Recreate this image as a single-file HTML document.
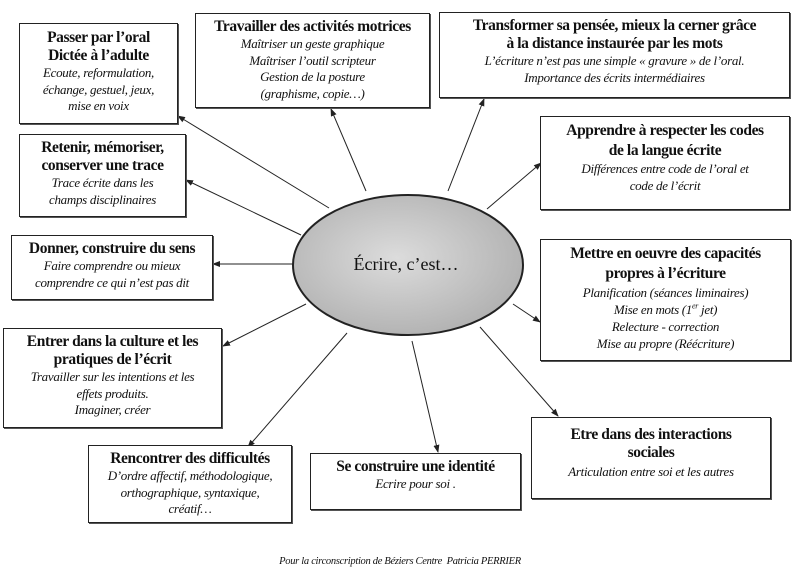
<!DOCTYPE html>
<html><head><meta charset="utf-8"><style>
body{margin:0;width:800px;height:573px;background:#fff;position:relative;overflow:hidden;font-family:"Liberation Serif",serif;color:#111}
.b{position:absolute;border:1.5px solid #222;box-sizing:border-box;text-align:center;background:#fff;box-shadow:1px 1px 0 #555}
.t{font-weight:bold;font-size:15.5px;line-height:18px;letter-spacing:-0.4px}
.i{font-style:italic;font-size:13px;line-height:16.5px;letter-spacing:-0.3px}
sup{line-height:0;font-size:8px}
svg{position:absolute;left:0;top:0}
</style></head><body>
<svg width="800" height="573">
<defs>
<marker id="a" markerWidth="8" markerHeight="8" refX="7" refY="4" orient="auto" markerUnits="userSpaceOnUse"><path d="M0,1 L8,4 L0,7 z" fill="#222"/></marker>
<radialGradient id="g" cx="0.45" cy="0.45" r="0.6"><stop offset="0" stop-color="#dcdcdc"/><stop offset="1" stop-color="#b0b0b0"/></radialGradient>
</defs>
<g stroke="#222" stroke-width="1" marker-end="url(#a)">
<line x1="329" y1="208" x2="178" y2="116"/>
<line x1="366" y1="191" x2="331" y2="109"/>
<line x1="448" y1="191" x2="484" y2="99"/>
<line x1="301" y1="235" x2="186" y2="180"/>
<line x1="487" y1="209" x2="541" y2="163"/>
<line x1="293" y1="264" x2="213" y2="264"/>
<line x1="513" y1="304" x2="540" y2="322"/>
<line x1="306" y1="304" x2="223" y2="346"/>
<line x1="347" y1="333" x2="248" y2="447"/>
<line x1="412" y1="341" x2="438" y2="452"/>
<line x1="480" y1="327" x2="558" y2="416"/>
</g>
<ellipse cx="408" cy="265" rx="115" ry="70" fill="url(#g)" stroke="#222" stroke-width="2"/>
<text x="406" y="270" text-anchor="middle" font-family="Liberation Serif" font-size="18" fill="#111">Écrire, c’est…</text>
</svg>
<div class="b" style="left:19px;top:23px;width:159px;height:101px;padding-top:5px"><div class="t">Passer par l’oral<br>Dictée à l’adulte</div><div class="i">Ecoute, reformulation,<br>échange, gestuel, jeux,<br>mise en voix</div></div>
<div class="b" style="left:195px;top:13px;width:235px;height:95px;padding-top:4px"><div class="t">Travailler des activités motrices</div><div class="i">Maîtriser un geste graphique<br>Maîtriser l’outil scripteur<br>Gestion de la posture<br>(graphisme, copie…)</div></div>
<div class="b" style="left:439px;top:12px;width:351px;height:86px;padding-top:4px"><div class="t">Transformer sa pensée, mieux la cerner grâce<br>à la distance instaurée par les mots</div><div class="i">L’écriture n’est pas une simple « gravure » de l’oral.<br>Importance des écrits intermédiaires</div></div>
<div class="b" style="left:19px;top:134px;width:167px;height:83px;padding-top:4px"><div class="t">Retenir, mémoriser,<br>conserver une trace</div><div class="i">Trace écrite dans les<br>champs disciplinaires</div></div>
<div class="b" style="left:540px;top:116px;width:250px;height:94px;padding-top:4px"><div class="t" style="line-height:20px">Apprendre à respecter les codes<br>de la langue écrite</div><div class="i">Différences entre code de l’oral et<br>code de l’écrit</div></div>
<div class="b" style="left:11px;top:235px;width:202px;height:65px;padding-top:4px"><div class="t">Donner, construire du sens</div><div class="i">Faire comprendre ou mieux<br>comprendre ce qui n’est pas dit</div></div>
<div class="b" style="left:540px;top:239px;width:251px;height:122px;padding-top:4px"><div class="t" style="line-height:20px">Mettre en oeuvre des capacités<br>propres à l’écriture</div><div class="i" style="line-height:17px">Planification (séances liminaires)<br>Mise en mots (1<sup>er</sup> jet)<br>Relecture - correction<br>Mise au propre (Réécriture)</div></div>
<div class="b" style="left:3px;top:328px;width:219px;height:100px;padding-top:4px"><div class="t">Entrer dans la culture et les<br>pratiques de l’écrit</div><div class="i">Travailler sur les intentions et les<br>effets produits.<br>Imaginer, créer</div></div>
<div class="b" style="left:88px;top:445px;width:204px;height:78px;padding-top:4px"><div class="t">Rencontrer des difficultés</div><div class="i">D’ordre affectif, méthodologique,<br>orthographique, syntaxique,<br>créatif…</div></div>
<div class="b" style="left:310px;top:453px;width:211px;height:57px;padding-top:4px"><div class="t">Se construire une identité</div><div class="i">Ecrire pour soi .</div></div>
<div class="b" style="left:531px;top:417px;width:240px;height:82px;padding-top:8px"><div class="t">Etre dans des interactions<br>sociales</div><div class="i" style="margin-top:2px">Articulation entre soi et les autres</div></div>
<div style="position:absolute;left:250px;top:556px;width:300px;text-align:center;font-style:italic;font-size:10.5px;letter-spacing:-0.3px">Pour la circonscription de Béziers Centre &nbsp;Patricia PERRIER</div>
</body></html>
